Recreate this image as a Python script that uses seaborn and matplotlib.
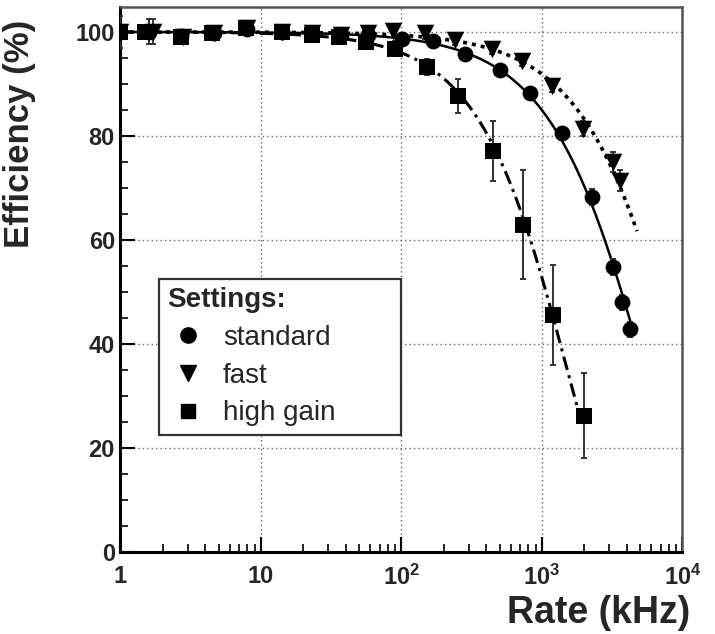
import numpy as np
import pandas as pd
import matplotlib
matplotlib.use("Agg")
import matplotlib.pyplot as plt
from matplotlib.lines import Line2D
import seaborn as sns

# ---- data ----
std_rate = [1.0, 1.6, 2.7, 4.6, 8.0, 14, 23, 37, 58, 101, 168, 283, 502, 822, 1387, 2269, 3202, 3708, 4230]
std_eff = [100, 100, 99.3, 99.8, 100.5, 100, 99.8, 99.5, 99.5, 98.7, 98.2, 95.8, 92.6, 88.3, 80.5, 68.3, 54.8, 48.0, 42.8]
std_err = [3, 2.4, 1, 1, 1, 1, 1, 1, 1, 1, 1, 1, 1, 1, 1.2, 1.5, 1.5, 1.5, 1.5]

fast_rate = [1.0, 1.7, 2.8, 4.6, 8.0, 14, 23, 37, 58, 87, 147, 240, 441, 720, 1178, 1959, 3200, 3590]
fast_eff = [100, 100, 99.0, 99.8, 100.7, 100, 99.8, 99.5, 99.8, 100.1, 99.7, 98.4, 96.8, 94.5, 89.7, 81.4, 75.0, 71.4]
fast_err = [1, 2.4, 1, 1, 1, 1, 1, 1, 1, 1, 1, 1, 1, 1, 1.2, 1.5, 2, 2]

high_rate = [1.0, 1.5, 2.7, 4.5, 7.8, 14, 23, 36, 56, 90, 152, 252, 448, 732, 1197, 1990]
high_eff = [100, 100, 99.0, 99.8, 100.8, 100, 99.5, 99.0, 98.0, 96.8, 93.3, 87.7, 77.1, 62.9, 45.5, 26.2]
high_err = [1, 1, 1, 1, 1, 1, 1, 1, 1, 1.5, 1.5, 3.2, 5.8, 10.5, 9.6, 8.2]

settings = ["standard", "fast", "high gain"]
fit_end = [4500, 4750, 1890]

x_ticks = [1, 10, 100, 1000, 10000]
x_ticklabels = ["1", "10", "$10^{2}$", "$10^{3}$", "$10^{4}$"]
y_ticks = [0, 20, 40, 60, 80, 100]

sns.set_theme(style="ticks")
plt.rcParams["font.family"] = ["Liberation Sans", "DejaVu Sans"]
plt.rcParams["mathtext.fontset"] = "custom"
plt.rcParams["mathtext.rm"] = "Liberation Sans:bold"
plt.rcParams["mathtext.it"] = "Liberation Sans:bold"
plt.rcParams["mathtext.bf"] = "Liberation Sans:bold"
plt.rcParams["mathtext.default"] = "rm"

frames = []
for name, r, e, er in [("standard", std_rate, std_eff, std_err),
                       ("fast", fast_rate, fast_eff, fast_err),
                       ("high gain", high_rate, high_eff, high_err)]:
    frames.append(pd.DataFrame({"rate": r, "eff": e, "err": er, "setting": name}))
df = pd.concat(frames, ignore_index=True)

fig = plt.figure(figsize=(7.15, 6.34), dpi=100)
ax = fig.add_axes([0.1685, 0.1293, 0.786, 0.8597])
ax.set_xscale("log")
ax.set_xlim(1, 1e4)
ax.set_ylim(0, 104.8)

# grid
ax.grid(True, which="major", linestyle=(0, (1, 2.2)), color="#666666", linewidth=1.0)
ax.set_axisbelow(True)

# fit curves (Weibull-type fit to the points below 97 %)
styles = {"standard": "-", "fast": (0, (1.1, 1.4)), "high gain": (0, (4.5, 1.8, 1, 1.8))}
widths = {"standard": 1.8, "fast": 2.6, "high gain": 2.2}
for name, end in zip(settings, fit_end):
    sub = df[(df.setting == name) & (df.eff < 97)]
    k, c = np.polyfit(np.log(sub.rate), np.log(-np.log(sub.eff / 100.0)), 1)
    xx = np.logspace(0, np.log10(end), 400)
    yy = 100.0 * np.exp(-np.exp(c) * xx ** k)
    sns.lineplot(x=xx, y=yy, ax=ax, color="black", linestyle=styles[name],
                 linewidth=widths[name], zorder=2, legend=False)

# error bars
for name in settings:
    sub = df[df.setting == name]
    ax.errorbar(sub.rate, sub.eff, yerr=sub.err, fmt="none", ecolor="#333333",
                elinewidth=1.4, capsize=2.2, capthick=1.4, zorder=3)

# markers
markers = {"standard": "o", "fast": "v", "high gain": "s"}
sizes = {"standard": 130, "fast": 160, "high gain": 135}
for name in settings:
    sub = df[df.setting == name]
    sns.scatterplot(data=sub, x="rate", y="eff", marker=markers[name], s=sizes[name],
                    color="black", edgecolor="black", linewidth=0, ax=ax, zorder=4, legend=False)

# axes styling
ax.set_xticks(x_ticks)
ax.set_xticklabels(x_ticklabels)
ax.set_yticks(y_ticks)
ax.set_yticklabels([str(v) for v in y_ticks])
ax.set_yticks(np.arange(0, 101, 5), minor=True)
for lab in ax.get_xticklabels() + ax.get_yticklabels():
    lab.set_fontweight("bold")
    lab.set_fontsize(17)
ax.tick_params(axis="both", which="major", direction="in", length=11, width=1.5, color="black")
ax.tick_params(axis="both", which="minor", direction="in", length=6, width=1.2, color="black")
ax.tick_params(axis="x", which="major", pad=9)
ax.tick_params(axis="y", which="major", pad=4)
ax.tick_params(top=False, right=False, which="both")

for s in ["left", "bottom"]:
    ax.spines[s].set_color("black")
    ax.spines[s].set_linewidth(2.2)
for s in ["top", "right"]:
    ax.spines[s].set_color("#555555")
    ax.spines[s].set_linewidth(1.8)
    ax.spines[s].set_visible(True)

ax.set_xlabel("Rate (kHz)", fontsize=27, fontweight="bold", loc="right")
ax.xaxis.set_label_coords(1.013, -0.078)
ax.set_ylabel("Efficiency (%)", fontsize=25, fontweight="bold", loc="top")
ax.yaxis.set_label_coords(-0.15, 0.976)

# legend
handles = [Line2D([], [], marker="o", color="black", linestyle="none", markersize=11),
           Line2D([], [], marker="v", color="black", linestyle="none", markersize=11),
           Line2D([], [], marker="s", color="black", linestyle="none", markersize=10)]
leg = ax.legend(handles, settings, title="Settings:", loc="upper left",
                bbox_to_anchor=(0.0685, 0.2165, 0.43, 0.2845), mode="expand",
                borderaxespad=0, frameon=True,
                fancybox=False, framealpha=1, edgecolor="#333333",
                prop={"size": 20, "family": "Liberation Sans"},
                title_fontproperties={"size": 20, "weight": "bold", "family": "Liberation Sans"},
                alignment="left", handletextpad=0.5, labelspacing=0.42,
                borderpad=0.3, handlelength=1.5)
leg.get_frame().set_linewidth(1.6)

fig.savefig("out.png", dpi=100)
